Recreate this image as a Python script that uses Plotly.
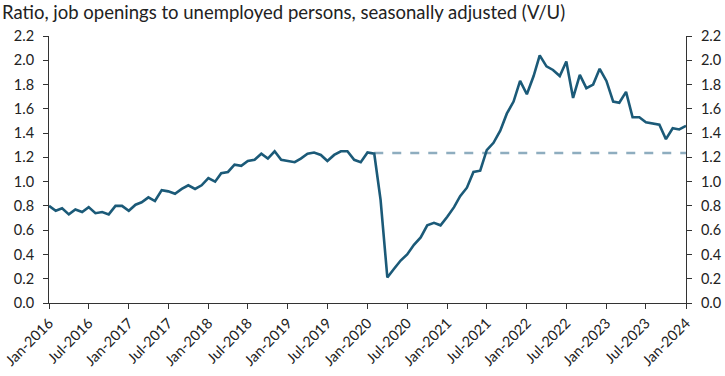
import pandas as pd
import plotly.graph_objects as go

start_month = "2016-01-01"
vu_ratio = [
    0.80, 0.76, 0.78, 0.73, 0.77, 0.75, 0.79, 0.74, 0.75, 0.73, 0.80, 0.80,
    0.76, 0.81, 0.83, 0.87, 0.84, 0.93, 0.92, 0.90, 0.94, 0.97, 0.94, 0.97,
    1.03, 1.00, 1.07, 1.08, 1.14, 1.13, 1.17, 1.18, 1.23, 1.19, 1.25, 1.18,
    1.17, 1.16, 1.19, 1.23, 1.24, 1.22, 1.17, 1.22, 1.25, 1.25, 1.18, 1.16,
    1.24, 1.23, 0.85, 0.21, 0.28, 0.35, 0.40, 0.48, 0.54, 0.64, 0.66, 0.64,
    0.71, 0.79, 0.88, 0.95, 1.08, 1.09, 1.26, 1.32, 1.42, 1.56, 1.66, 1.83,
    1.72, 1.87, 2.04, 1.95, 1.92, 1.87, 1.99, 1.69, 1.88, 1.77, 1.80, 1.93,
    1.83, 1.66, 1.65, 1.74, 1.53, 1.53, 1.49, 1.48, 1.47, 1.35, 1.44, 1.43,
    1.46,
]
pre_pandemic_level = 1.235
pre_pandemic_start = "2020-02-01"
end_month = "2024-01-01"
y_ticks = [0.0, 0.2, 0.4, 0.6, 0.8, 1.0, 1.2, 1.4, 1.6, 1.8, 2.0, 2.2]
title_text = "Ratio, job openings to unemployed persons, seasonally adjusted (V/U)"

months = pd.date_range(start_month, periods=len(vu_ratio), freq="MS")

fig = go.Figure()
fig.add_trace(go.Scatter(
    x=[pre_pandemic_start, end_month], y=[pre_pandemic_level, pre_pandemic_level],
    mode="lines", line=dict(color="#8eadbf", width=2.5, dash="dash"),
    hoverinfo="skip", showlegend=False,
))
fig.add_trace(go.Scatter(
    x=months, y=vu_ratio, mode="lines",
    line=dict(color="#1b5a78", width=2.6), showlegend=False,
))
fig.add_trace(go.Scatter(
    x=months, y=vu_ratio, yaxis="y2", mode="lines",
    line=dict(color="rgba(0,0,0,0)", width=0), hoverinfo="skip", showlegend=False,
))

font_family = "Lato, 'Open Sans', sans-serif"
axis_common = dict(
    range=[0, 2.2], tickvals=y_ticks, tickformat=".1f",
    showgrid=False, zeroline=False, showline=True, linecolor="#333",
    linewidth=1, ticks="outside", ticklen=5, tickcolor="#333",
    tickfont=dict(size=14.5, color="#222", family=font_family),
    ticklabelstandoff=6, automargin=False, ticklabeloverflow="allow",
)

fig.update_layout(
    width=725, height=376,
    margin=dict(l=49, r=39, t=36, b=73, autoexpand=False),
    paper_bgcolor="white", plot_bgcolor="white",
    font=dict(family=font_family, color="#222"),
    xaxis=dict(
        type="date", range=[start_month, end_month],
        tick0=start_month, dtick="M6", tickformat="%b-%Y", tickangle=-45,
        showgrid=False, zeroline=False, showline=True, linecolor="#333",
        ticks="outside", ticklen=5, tickcolor="#333",
        tickfont=dict(size=14.5, color="#222", family=font_family),
        automargin=False, ticklabeloverflow="allow",
    ),
    yaxis=dict(side="left", **axis_common),
    yaxis2=dict(side="right", overlaying="y", anchor="x", **axis_common),
    annotations=[dict(
        text=title_text, x=-49 / 636, y=1 + 24 / 267, xref="paper", yref="paper",
        xanchor="left", yanchor="middle", showarrow=False,
        font=dict(size=18.5, color="#222", family=font_family),
    )],
)

fig.write_html(
    "out.html",
    config={"displayModeBar": False},
    post_script="document.body.style.margin='0';document.body.style.padding='0';",
)
